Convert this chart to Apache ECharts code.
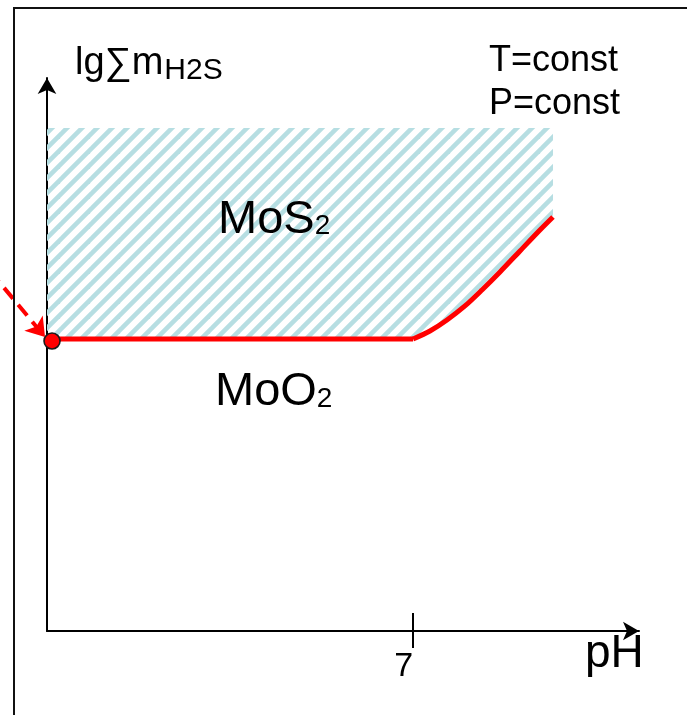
<!DOCTYPE html>
<html>
<head>
<meta charset="utf-8">
<script src="https://cdn.jsdelivr.net/npm/echarts@6/dist/echarts.min.js"></script>
<style>
html,body{margin:0;padding:0;background:#fff;}
#chart{width:687px;height:715px;}
</style>
</head>
<body>
<div id="chart"></div>
<script>
// ---- data ----
const xTicks = [7];
const xTickLabels = ['7'];
const boundaryX = [0, 7, 7.323, 7.648, 7.992, 8.317, 8.662, 9.044, 9.426, 9.675];
const boundaryY = [5.36, 5.36, 5.507, 5.709, 5.966, 6.259, 6.59, 6.975, 7.36, 7.599];
const hatchTop = 9.233;
const arrowFrom = [-1.09, 6.608];
const arrowTo = [-0.038, 5.397];
const triplePoint = [0.096, 5.323];
const xRange = [0, 11.32];
const yRange = [0, 10.15];

const FONT = '"Liberation Sans", Arial, sans-serif';

// hatch pattern (seamless diagonal stripes)
const T = 30, P = 15;
const tile = document.createElement('canvas');
tile.width = T; tile.height = T;
const tc = tile.getContext('2d');
tc.strokeStyle = '#b6dee2';
tc.lineWidth = 4.6;
tc.lineCap = 'square';
for (let o = -2 * T; o <= 2 * T; o += P) {
  tc.beginPath(); tc.moveTo(o - 10, T + 10); tc.lineTo(o + T + 10, -10); tc.stroke();
}

function measure(text, size) {
  const c = document.createElement('canvas').getContext('2d');
  c.font = size + 'px ' + FONT;
  return c.measureText(text).width;
}

const baseData = boundaryX.map((x, i) => [x, boundaryY[i]]);
const flatData = baseData.slice(0, 2);
const curveData = baseData.slice(1);

function txt(text, x, y, size) {
  return {type: 'text', x: x, y: y, z: 100,
    style: {text: text, font: size + 'px ' + FONT, fill: '#000', align: 'left', verticalAlign: 'middle'}};
}

const lgMain = 'lg\u2211m', lgSize = 38;
const mosSize = 47, subSize = 28;

const chart = echarts.init(document.getElementById('chart'), null, {renderer: 'canvas'});
chart.setOption({
  animation: false,
  backgroundColor: '#fff',
  grid: {left: 47, right: 48, top: 78, bottom: 84, outerBoundsMode: 'none', containLabel: false},
  xAxis: [{
    type: 'value', min: xRange[0], max: xRange[1],
    axisLine: {show: true, onZero: false, lineStyle: {color: '#000', width: 2}, symbol: ['none', 'arrow'], symbolSize: [14, 16]},
    axisTick: {show: true, length: 17, customValues: xTicks, lineStyle: {color: '#000', width: 2}},
    axisLabel: {show: true, customValues: xTicks, formatter: v => xTickLabels[xTicks.indexOf(v)] || '', align: 'right', fontSize: 34, fontFamily: FONT, color: '#000', margin: 19},
    splitLine: {show: false}
  }, {
    type: 'value', min: xRange[0], max: xRange[1], position: 'bottom',
    axisLine: {show: false, onZero: false},
    axisTick: {show: true, inside: true, length: 18, customValues: xTicks, lineStyle: {color: '#000', width: 2}},
    axisLabel: {show: false},
    splitLine: {show: false}
  }],
  yAxis: {
    type: 'value', min: yRange[0], max: yRange[1],
    axisLine: {show: true, onZero: false, lineStyle: {color: '#000', width: 2}, symbol: ['none', 'arrow'], symbolSize: [14, 16]},
    axisTick: {show: false}, axisLabel: {show: false}, splitLine: {show: false}
  },
  series: [
    {type: 'custom', coordinateSystem: 'cartesian2d', data: [[0, 0]], silent: true, z: 1, clip: false,
      renderItem: function (params, api) {
        const pts = boundaryX.map((x, i) => api.coord([x, boundaryY[i]]));
        const tr = api.coord([boundaryX[boundaryX.length - 1], hatchTop]);
        const tl = api.coord([boundaryX[0], hatchTop]);
        return {type: 'polygon', shape: {points: pts.concat([tr, tl])},
          style: {fill: {image: tile, repeat: 'repeat'}, stroke: null}};
      }},
    {type: 'line', data: flatData, symbol: 'none', lineStyle: {color: '#ff0000', width: 5}, z: 3},
    {type: 'line', data: curveData, symbol: 'none', smooth: 0.3, lineStyle: {color: '#ff0000', width: 5}, z: 3},
    {type: 'lines', coordinateSystem: 'cartesian2d', clip: false, z: 4,
      symbol: ['none', 'arrow'], symbolSize: 18,
      lineStyle: {color: '#ff0000', width: 4, type: [14, 8], opacity: 1},
      data: [{coords: [arrowFrom, arrowTo]}]},
    {type: 'scatter', data: [triplePoint], symbolSize: 16, z: 5,
      itemStyle: {color: '#ff0000', borderColor: '#1a1a1a', borderWidth: 1.6, opacity: 1}}
  ],
  graphic: [
    {type: 'polyline', z: 100, shape: {points: [[14, 715], [14, 8], [687, 8]]}, style: {stroke: '#111', lineWidth: 2, fill: null}},
    txt(lgMain, 75, 64, lgSize),
    txt('H2S', 75 + measure(lgMain, lgSize) + 1, 71, 30),
    txt('T=const', 489, 61, 36),
    txt('P=const', 489, 104, 36),
    txt('MoS', 218, 220, mosSize),
    txt('2', 218 + measure('MoS', mosSize), 226, subSize),
    txt('MoO', 215, 392, mosSize),
    txt('2', 215 + measure('MoO', mosSize), 399, subSize),
    txt('pH', 585, 654, 46)
  ]
});
</script>
</body>
</html>
